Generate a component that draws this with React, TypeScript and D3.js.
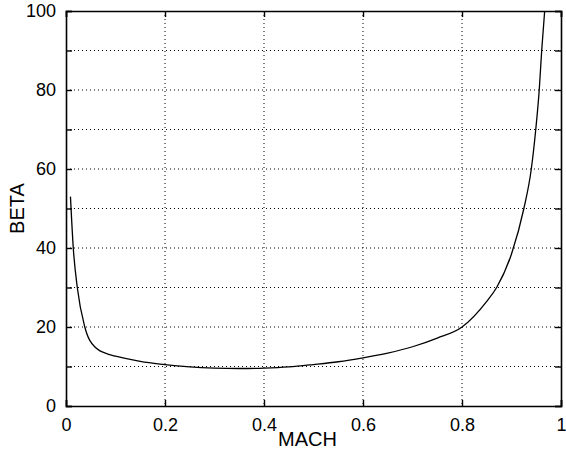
import React, { useEffect, useRef } from "react"
import * as d3 from "d3"

// Mach number samples
const mach = [
  0.009, 0.0147, 0.0228, 0.038, 0.058, 0.088, 0.1, 0.15, 0.19, 0.25, 0.3, 0.35,
  0.4, 0.45, 0.5, 0.55, 0.6, 0.65, 0.7, 0.75, 0.8, 0.85, 0.87, 0.9, 0.925,
  0.94, 0.949, 0.956, 0.961, 0.967,
]
// matching BETA values
const beta = [
  53, 40, 30, 20, 15, 13, 12.6, 11.3, 10.6, 9.9, 9.6, 9.5, 9.6, 9.9, 10.5,
  11.2, 12.2, 13.4, 15, 17.2, 20, 26.5, 30, 38.5, 50, 60, 70, 80, 90, 100,
]

const xTicks = [0, 0.2, 0.4, 0.6, 0.8, 1]
const xTickLabels = ["0", "0.2", "0.4", "0.6", "0.8", "1"]
const yTicks = [0, 10, 20, 30, 40, 50, 60, 70, 80, 90, 100]
const yTickLabels = ["0", "", "20", "", "40", "", "60", "", "80", "", "100"]

export default function App() {
  const ref = useRef<SVGSVGElement>(null)

  useEffect(() => {
    const svg = d3.select(ref.current)
    svg.selectAll("*").remove()

    const W = 566
    const H = 452
    const margin = { top: 11, right: 5, bottom: 46, left: 66 }
    const width = W - margin.left - margin.right
    const height = H - margin.top - margin.bottom

    const x = d3.scaleLinear().domain([0, 1]).range([0, width])
    const y = d3.scaleLinear().domain([0, 100]).range([height, 0])

    const g = svg
      .append("g")
      .attr("transform", `translate(${margin.left},${margin.top})`)

    const font = "'Liberation Sans', Arial, Helvetica, sans-serif"

    // dotted grid
    g.append("g")
      .selectAll("line")
      .data(xTicks.slice(1, -1))
      .enter()
      .append("line")
      .attr("x1", d => x(d))
      .attr("x2", d => x(d))
      .attr("y1", 0)
      .attr("y2", height)
      .attr("stroke", "#000")
      .attr("stroke-width", 1)
      .attr("stroke-dasharray", "1,3")

    g.append("g")
      .selectAll("line")
      .data(yTicks.slice(1, -1))
      .enter()
      .append("line")
      .attr("x1", 0)
      .attr("x2", width)
      .attr("y1", d => y(d))
      .attr("y2", d => y(d))
      .attr("stroke", "#000")
      .attr("stroke-width", 1)
      .attr("stroke-dasharray", "1,3")

    // axes with inward ticks (left/bottom labelled, right/top tick only)
    const left = g.append("g").call(
      d3.axisLeft(y).tickValues(yTicks).tickSize(-6).tickPadding(10)
        .tickFormat((_, i) => yTickLabels[i])
    )
    const bottom = g.append("g")
      .attr("transform", `translate(0,${height})`)
      .call(
        d3.axisBottom(x).tickValues(xTicks).tickSize(-6).tickPadding(12)
          .tickFormat((_, i) => xTickLabels[i])
      )
    const right = g.append("g")
      .attr("transform", `translate(${width},0)`)
      .call(d3.axisRight(y).tickValues(yTicks).tickSize(-6).tickFormat(() => ""))
    const top = g.append("g")
      .call(d3.axisTop(x).tickValues(xTicks).tickSize(-6).tickFormat(() => ""))

    ;[left, bottom, right, top].forEach(a => {
      a.selectAll("path").attr("stroke", "#000").attr("stroke-width", 1.6)
      a.selectAll("line").attr("stroke", "#000").attr("stroke-width", 1.4)
      a.selectAll("text")
        .attr("fill", "#000")
        .style("font-family", font)
        .style("font-size", "18px")
    })

    // curve
    const pts = mach.map((m, i) => [m, beta[i]] as [number, number])
    g.append("path")
      .datum(pts)
      .attr("fill", "none")
      .attr("stroke", "#000")
      .attr("stroke-width", 1.3)
      .attr("d", d3.line<[number, number]>()
        .x(d => x(d[0]))
        .y(d => y(d[1]))
        .curve(d3.curveMonotoneX))

    // axis titles
    svg.append("text")
      .attr("x", margin.left + width / 2 - 6)
      .attr("y", 446)
      .attr("text-anchor", "middle")
      .style("font-family", font)
      .style("font-size", "20px")
      .text("MACH")

    svg.append("text")
      .attr("transform", `translate(24,${margin.top + height / 2}) rotate(-90)`)
      .attr("text-anchor", "middle")
      .style("font-family", font)
      .style("font-size", "20px")
      .text("BETA")
  }, [])

  return (
    <svg
      ref={ref}
      width={566}
      height={452}
      style={{ position: "absolute", left: 0, top: 0, background: "#fff" }}
    />
  )
}
